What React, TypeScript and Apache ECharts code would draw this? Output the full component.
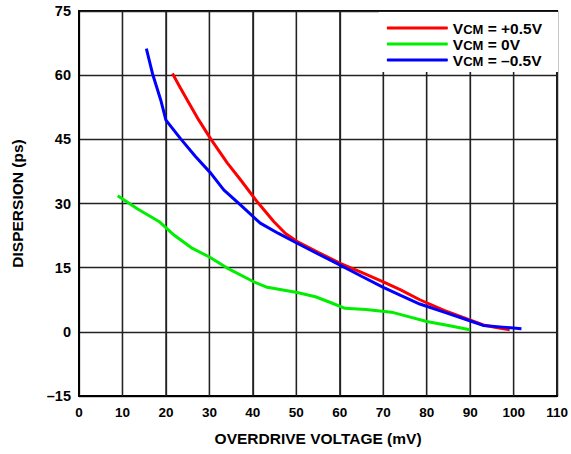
import React, { useEffect, useRef } from "react";
import * as echarts from "echarts";

const redX = [21.5, 23.4, 24.9, 27.5, 30.3, 34.1, 37.2, 41.0, 44.8, 47.5, 50.2, 55.0, 60.1, 65.0, 70.0, 74.0, 78.4, 84.0, 89.9, 93.0, 96.0, 99.1];
const redY = [60.4, 56.9, 54.2, 49.6, 45.1, 39.5, 35.5, 30.4, 25.8, 23.0, 21.1, 18.6, 16.0, 13.9, 11.7, 9.8, 7.5, 5.0, 2.8, 1.6, 1.0, 0.5];

const greenX = [8.9, 13.5, 18.4, 22.0, 26.1, 30.0, 34.1, 40.2, 43.3, 50.2, 54.4, 58.0, 61.2, 66.0, 71.9, 76.0, 80.0, 85.0, 89.9];
const greenY = [31.8, 28.7, 25.8, 22.5, 19.5, 17.5, 14.9, 11.7, 10.4, 9.2, 8.2, 6.8, 5.5, 5.2, 4.6, 3.5, 2.4, 1.5, 0.5];

const blueX = [15.5, 16.9, 18.8, 20.0, 23.4, 26.8, 30.3, 33.3, 37.2, 41.7, 45.9, 50.2, 55.0, 60.1, 65.0, 70.0, 74.0, 78.4, 84.0, 89.9, 93.0, 97.5, 101.8];
const blueY = [66.2, 60.4, 54.2, 49.5, 45.1, 41.0, 37.1, 33.2, 29.6, 25.4, 23.0, 20.7, 18.2, 15.6, 13.0, 10.4, 8.5, 6.5, 4.6, 2.6, 1.5, 1.1, 0.7];

const seriesNames = ["VCM = +0.5V", "VCM = 0V", "VCM = -0.5V"];
const seriesLabels = ["+0.5V", "0V", "\u20130.5V"];
const seriesColors = ["#ff0000", "#00ee00", "#0000ff"];

const xTicks = { min: 0, max: 110, interval: 10 };
const yTicks = { min: -15, max: 75, interval: 15 };
const xGridValues = [10, 20, 30, 40, 50, 60, 70, 80, 90, 100];

const zip = (xs: number[], ys: number[]) => xs.map((x, i) => [x, ys[i]]);

export default function App() {
  const ref = useRef<HTMLDivElement>(null);
  useEffect(() => {
    if (!ref.current) return;
    const chart = echarts.init(ref.current, null, { renderer: "svg" });
    const font = "Liberation Sans, Arial, sans-serif";
    const datas = [zip(redX, redY), zip(greenX, greenY), zip(blueX, blueY)];
    chart.setOption({
      animation: false,
      backgroundColor: "#fff",
      grid: {
        left: 79,
        right: 13,
        top: 11,
        bottom: 58,
        show: true,
        borderColor: "#000",
        borderWidth: 2,
      },
      legend: {
        orient: "vertical",
        right: 13,
        top: 12,
        icon: "roundRect",
        itemWidth: 61,
        itemHeight: 3,
        itemGap: 0,
        padding: [8, 16, 4, 8],
        backgroundColor: "#fff",
        data: seriesNames,
        formatter: (name: string) => {
          const i = seriesNames.indexOf(name);
          return "{a|V}{b|CM}{a| = " + seriesLabels[i] + "}";
        },
        textStyle: {
          fontFamily: font,
          fontWeight: "bold",
          color: "#000",
          rich: {
            a: { fontSize: 15.5, fontWeight: "bold", fontFamily: font, color: "#000", lineHeight: 16 },
            b: { fontSize: 13, fontWeight: "bold", fontFamily: font, color: "#000", verticalAlign: "bottom", lineHeight: 6 },
          },
        },
      },
      xAxis: {
        type: "value",
        min: xTicks.min,
        max: xTicks.max,
        interval: xTicks.interval,
        name: "OVERDRIVE VOLTAGE (mV)",
        nameLocation: "middle",
        nameGap: 34,
        nameTextStyle: { fontFamily: font, fontWeight: "bold", fontSize: 15.5, color: "#000" },
        axisLine: { show: true, onZero: false, lineStyle: { color: "#000", width: 2 } },
        axisTick: { show: false },
        axisLabel: { fontFamily: font, fontWeight: "bold", fontSize: 13.5, color: "#000", margin: 9 },
        splitLine: { show: true, lineStyle: { color: "#222", width: 1.3 } },
      },
      yAxis: {
        type: "value",
        min: yTicks.min,
        max: yTicks.max,
        interval: yTicks.interval,
        name: "DISPERSION (ps)",
        nameLocation: "middle",
        nameGap: 54,
        nameRotate: 90,
        nameTextStyle: { fontFamily: font, fontWeight: "bold", fontSize: 15.5, color: "#000" },
        axisLine: { show: true, onZero: false, lineStyle: { color: "#000", width: 2 } },
        axisTick: { show: false },
        axisLabel: {
          fontFamily: font,
          fontWeight: "bold",
          fontSize: 14.5,
          color: "#000",
          margin: 8,
          formatter: (v: number) => (v < 0 ? "\u2013" + Math.abs(v) : String(v)),
        },
        splitLine: { show: true, lineStyle: { color: "#222", width: 1.3 } },
      },
      series: [
        {
          name: "vgrid",
          type: "custom",
          silent: true,
          z: 1,
          data: xGridValues.map((v) => [v]),
          encode: { x: 0 },
          renderItem: (params: any, api: any) => {
            const x = api.value(0);
            const p1 = api.coord([x, yTicks.min]);
            const p2 = api.coord([x, yTicks.max]);
            return {
              type: "line",
              shape: { x1: p1[0], y1: p1[1], x2: p2[0], y2: p2[1] },
              style: { stroke: "#222", lineWidth: 1.3 },
            };
          },
        },
        ...datas.map((d, i) => ({
          name: seriesNames[i],
          type: "line",
          data: d,
          showSymbol: false,
          symbol: "none",
          smooth: false,
          lineStyle: { color: seriesColors[i], width: 3 },
          itemStyle: { color: seriesColors[i] },
          z: 3 + (i === 2 ? 1 : 0),
        })),
      ],
    });
    return () => chart.dispose();
  }, []);
  return (
    <div
      ref={ref}
      style={{ position: "fixed", left: 0, top: 0, width: 571, height: 454, background: "#fff" }}
    />
  );
}
